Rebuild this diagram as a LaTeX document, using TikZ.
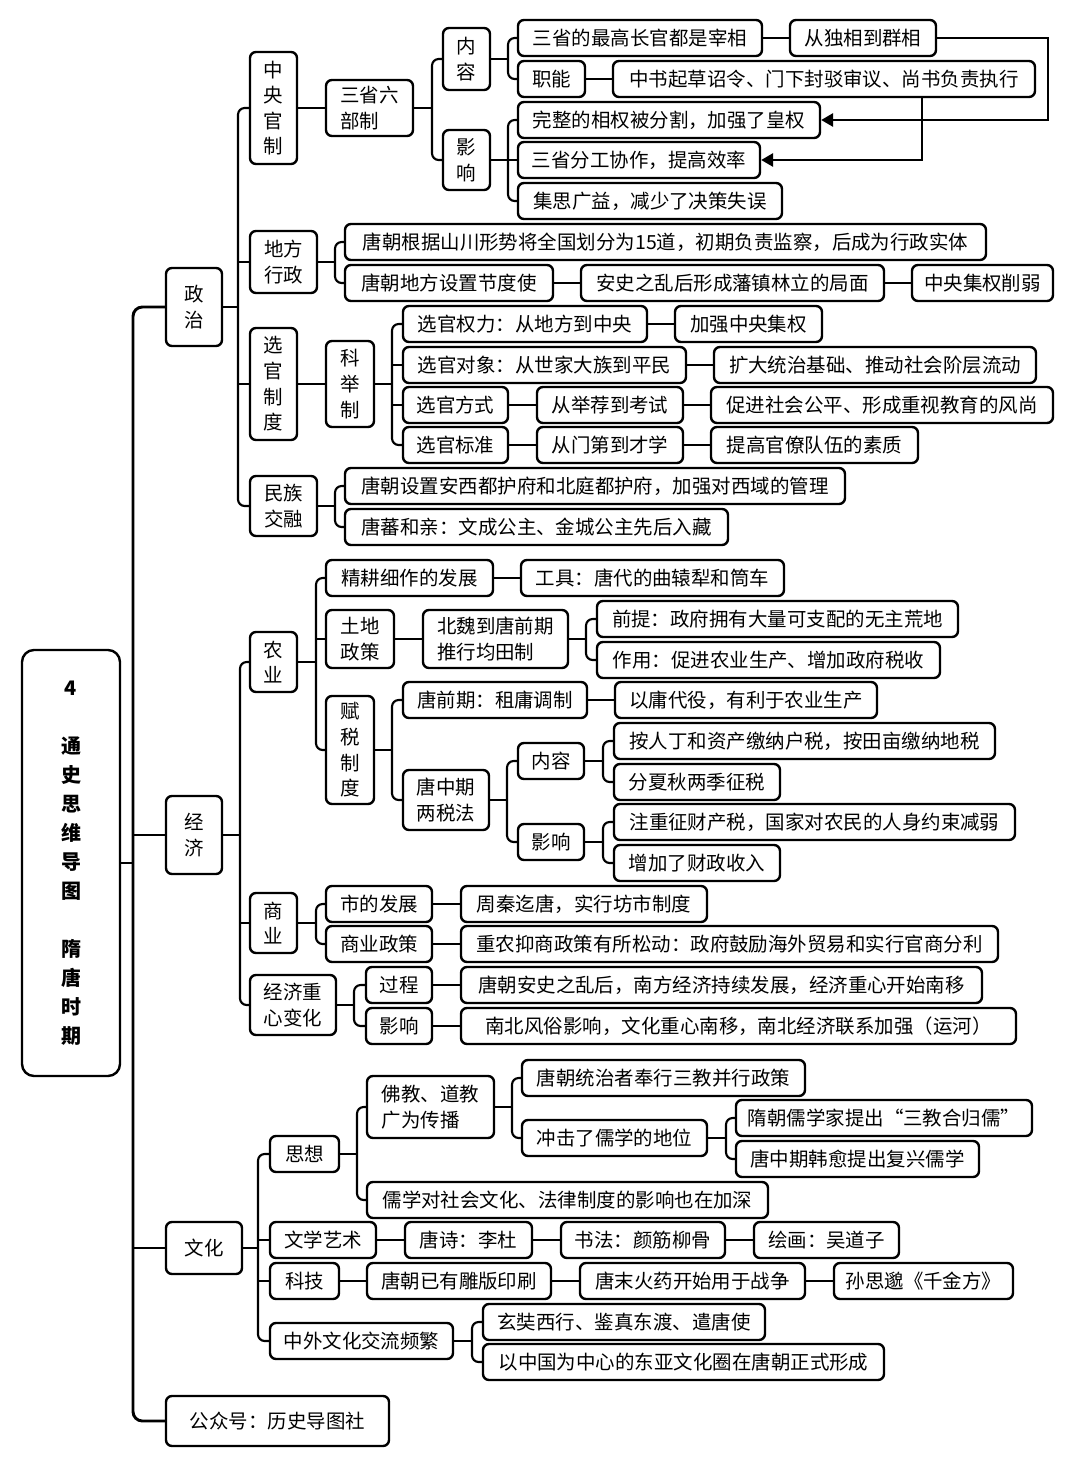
\documentclass[tikz,border=0pt]{standalone}
\usepackage{fontspec}
\setmainfont{Noto Sans CJK SC}
\usetikzlibrary{arrows.meta}
\tikzset{
  box/.style={draw=black,line width=1.8pt,rounded corners=4.5pt,fill=white,inner sep=1pt,align=center,
    font=\fontsize{14.6}{19.2}\selectfont},
  rootbox/.style={box,rounded corners=9pt,font=\fontsize{15}{21.75}\selectfont\bfseries},
  conn/.style={draw=black,line width=1.6pt},
  trunk/.style={draw=black,line width=2.2pt},
  arr/.style={conn,-{Triangle[length=9pt,width=10pt]}}
}
\newcommand\mybox[7][]{\node[box,#1,minimum width={(#5-#3)*0.75pt},minimum height={(#6-#4)*0.75pt}] (#2) at ({(#3+#5)/2},{(#4+#6)/2}) {#7};}
\newcommand\brk[4]{%
  \draw[conn] (#1.east) -- (#2,0 |- #1.east);
  \draw[conn,rounded corners=5pt] (#3.west) -- (#2,0 |- #3.west) -- (#2,0 |- #4.west) -- (#4.west);}
\newcommand\midc[2]{\draw[conn] (#1,0 |- #2.west) -- (#2.west);}
\newcommand\lnk[2]{\draw[conn] (#1.east) -- (#2.west);}
\begin{document}
\begin{tikzpicture}[x=0.75pt,y=-0.75pt]
\fill[white] (0,0) rectangle (1080,1467);
\useasboundingbox (0,0) rectangle (1080,1467);

% root and level 1
\mybox[rootbox]{root}{22}{650}{120}{1076}{4\\[21.75pt]通\\史\\思\\维\\导\\图\\[21.75pt]隋\\唐\\时\\期}
\mybox{zz}{166}{268}{222}{346}{政\\治}
\mybox{jj}{166}{796}{222}{874}{经\\济}
\mybox{wh}{166}{1222}{242}{1274}{文化}
\mybox{gzh}{166}{1396}{389}{1446}{公众号：历史导图社}
\draw[trunk,rounded corners=7pt] (zz.west) -- (133,0 |- zz.west) -- (133,0 |- gzh.west) -- (gzh.west);
\draw[trunk] (root.east) -- (133,0 |- root.east);
\draw[trunk] (133,0 |- jj.west) -- (jj.west);
\draw[trunk] (133,0 |- wh.west) -- (wh.west);

% 政治
\mybox{zygz}{250}{52}{297}{164}{中\\央\\官\\制}
\mybox[align=left]{dfxz}{250}{231}{317}{293}{地方\\行政}
\mybox{xgzd}{250}{328}{297}{440}{选\\官\\制\\度}
\mybox[align=left]{mzjr}{250}{476}{317}{536}{民族\\交融}
\brk{zz}{238}{zygz}{mzjr}
\midc{238}{dfxz}\midc{238}{xgzd}

\mybox[align=left]{sslb}{326}{80}{413}{136}{三省六\\部制}
\lnk{zygz}{sslb}
\mybox{nr}{443}{28}{490}{90}{内\\容}
\mybox{yx}{443}{130}{490}{190}{影\\响}
\brk{sslb}{432}{nr}{yx}
\mybox{a1}{518}{20}{762}{56}{三省的最高长官都是宰相}
\mybox{a2}{790}{20}{936}{56}{从独相到群相}
\mybox{b1}{518}{61}{585}{97}{职能}
\mybox{b2}{613}{61}{1035}{97}{中书起草诏令、门下封驳审议、尚书负责执行}
\brk{nr}{508}{a1}{b1}
\lnk{a1}{a2}\lnk{b1}{b2}
\mybox{c1}{518}{102}{820}{138}{完整的相权被分割，加强了皇权}
\mybox{c2}{518}{142}{760}{178}{三省分工协作，提高效率}
\mybox{c3}{518}{183}{782}{219}{集思广益，减少了决策失误}
\brk{yx}{508}{c1}{c3}
\midc{508}{c2}
\draw[arr] (a2.east) -- (1048,0 |- a2.east) -- (1048,0 |- c1.east) -- (c1.east);
\draw[arr] (922,0 |- b2.south) -- (922,0 |- c2.east) -- (c2.east);

\mybox{d1}{345}{224}{986}{260}{唐朝根据山川形势将全国划分为15道，初期负责监察，后成为行政实体}
\mybox{d2}{345}{265}{553}{301}{唐朝地方设置节度使}
\mybox{d3}{581}{265}{884}{301}{安史之乱后形成藩镇林立的局面}
\mybox{d4}{912}{265}{1053}{301}{中央集权削弱}
\brk{dfxz}{335}{d1}{d2}
\lnk{d2}{d3}\lnk{d3}{d4}

\mybox{kjz}{326}{341}{374}{427}{科\\举\\制}
\lnk{xgzd}{kjz}
\mybox{e1}{403}{306}{647}{342}{选官权力：从地方到中央}
\mybox{e2}{675}{306}{822}{342}{加强中央集权}
\mybox{f1}{403}{347}{686}{383}{选官对象：从世家大族到平民}
\mybox{f2}{714}{347}{1036}{383}{扩大统治基础、推动社会阶层流动}
\mybox{g1}{403}{387}{508}{423}{选官方式}
\mybox{g2}{537}{387}{683}{423}{从举荐到考试}
\mybox{g3}{711}{387}{1053}{423}{促进社会公平、形成重视教育的风尚}
\mybox{h1}{403}{427}{508}{463}{选官标准}
\mybox{h2}{537}{427}{683}{463}{从门第到才学}
\mybox{h3}{711}{427}{918}{463}{提高官僚队伍的素质}
\brk{kjz}{392}{e1}{h1}
\midc{392}{f1}\midc{392}{g1}
\lnk{e1}{e2}\lnk{f1}{f2}\lnk{g1}{g2}\lnk{g2}{g3}\lnk{h1}{h2}\lnk{h2}{h3}

\mybox{i1}{345}{468}{845}{504}{唐朝设置安西都护府和北庭都护府，加强对西域的管理}
\mybox{i2}{345}{509}{728}{545}{唐蕃和亲：文成公主、金城公主先后入藏}
\brk{mzjr}{335}{i1}{i2}

% 经济
\mybox{ny}{250}{632}{297}{692}{农\\业}
\mybox{sy}{250}{893}{297}{953}{商\\业}
\mybox[align=left]{jjzx}{250}{975}{336}{1035}{经济重\\心变化}
\brk{jj}{240}{ny}{jjzx}
\midc{240}{sy}

\mybox{j1}{326}{560}{493}{596}{精耕细作的发展}
\mybox{j2}{521}{560}{784}{596}{工具：唐代的曲辕犁和筒车}
\mybox[align=left]{k1}{326}{610}{394}{668}{土地\\政策}
\mybox[align=left]{k2}{423}{610}{568}{668}{北魏到唐前期\\推行均田制}
\mybox{k3}{597}{601}{958}{637}{前提：政府拥有大量可支配的无主荒地}
\mybox{k4}{597}{642}{940}{678}{作用：促进农业生产、增加政府税收}
\mybox{l1}{326}{696}{374}{804}{赋\\税\\制\\度}
\brk{ny}{316}{j1}{l1}
\midc{316}{k1}
\lnk{j1}{j2}\lnk{k1}{k2}
\brk{k2}{586}{k3}{k4}

\mybox{m1}{403}{682}{587}{718}{唐前期：租庸调制}
\mybox{m2}{615}{682}{877}{718}{以庸代役，有利于农业生产}
\mybox[align=left]{n1}{403}{770}{489}{830}{唐中期\\两税法}
\brk{l1}{392}{m1}{n1}
\lnk{m1}{m2}
\mybox{n2}{518}{743}{584}{779}{内容}
\mybox{n3}{518}{824}{584}{860}{影响}
\brk{n1}{507}{n2}{n3}
\mybox{o1}{614}{723}{995}{759}{按人丁和资产缴纳户税，按田亩缴纳地税}
\mybox{o2}{614}{764}{780}{800}{分夏秋两季征税}
\mybox{o3}{614}{804}{1015}{840}{注重征财产税，国家对农民的人身约束减弱}
\mybox{o4}{614}{845}{780}{881}{增加了财政收入}
\brk{n2}{603}{o1}{o2}
\brk{n3}{603}{o3}{o4}

\mybox{p1}{326}{886}{432}{922}{市的发展}
\mybox{p2}{461}{886}{707}{922}{周秦迄唐，实行坊市制度}
\mybox{q1}{326}{926}{432}{962}{商业政策}
\mybox{q2}{461}{926}{998}{962}{重农抑商政策有所松动：政府鼓励海外贸易和实行官商分利}
\brk{sy}{316}{p1}{q1}
\lnk{p1}{p2}\lnk{q1}{q2}

\mybox{r1}{366}{967}{432}{1003}{过程}
\mybox{r2}{461}{967}{982}{1003}{唐朝安史之乱后，南方经济持续发展，经济重心开始南移}
\mybox{s1}{366}{1008}{432}{1044}{影响}
\mybox{s2}{461}{1008}{1016}{1044}{南北风俗影响，文化重心南移，南北经济联系加强（运河）}
\brk{jjzx}{354}{r1}{s1}
\lnk{r1}{r2}\lnk{s1}{s2}

% 文化
\mybox{sx}{270}{1136}{339}{1172}{思想}
\mybox{wxys}{270}{1222}{376}{1258}{文学艺术}
\mybox{kj}{270}{1263}{339}{1299}{科技}
\mybox{zw}{270}{1323}{453}{1359}{中外文化交流频繁}
\brk{wh}{258}{sx}{zw}
\midc{258}{wxys}\midc{258}{kj}

\mybox[align=left]{t1}{367}{1076}{494}{1138}{佛教、道教\\广为传播}
\mybox{t5}{367}{1182}{768}{1218}{儒学对社会文化、法律制度的影响也在加深}
\brk{sx}{357}{t1}{t5}
\mybox{t2}{522}{1060}{805}{1096}{唐朝统治者奉行三教并行政策}
\mybox{t3}{522}{1120}{707}{1156}{冲击了儒学的地位}
\brk{t1}{512}{t2}{t3}
\mybox{t4}{736}{1100}{1032}{1136}{隋朝儒学家提出“三教合归儒”}
\mybox{t6}{736}{1141}{979}{1177}{唐中期韩愈提出复兴儒学}
\brk{t3}{726}{t4}{t6}

\mybox{u1}{405}{1222}{532}{1258}{唐诗：李杜}
\mybox{u2}{561}{1222}{725}{1258}{书法：颜筋柳骨}
\mybox{u3}{754}{1222}{899}{1258}{绘画：吴道子}
\lnk{wxys}{u1}\lnk{u1}{u2}\lnk{u2}{u3}
\mybox{v1}{367}{1263}{551}{1299}{唐朝已有雕版印刷}
\mybox{v2}{580}{1263}{805}{1299}{唐末火药开始用于战争}
\mybox{v3}{834}{1263}{1013}{1299}{孙思邈《千金方》}
\lnk{kj}{v1}\lnk{v1}{v2}\lnk{v2}{v3}
\mybox{w1}{483}{1304}{765}{1340}{玄奘西行、鉴真东渡、遣唐使}
\mybox{w2}{483}{1344}{884}{1380}{以中国为中心的东亚文化圈在唐朝正式形成}
\brk{zw}{472}{w1}{w2}
\end{tikzpicture}
\end{document}
